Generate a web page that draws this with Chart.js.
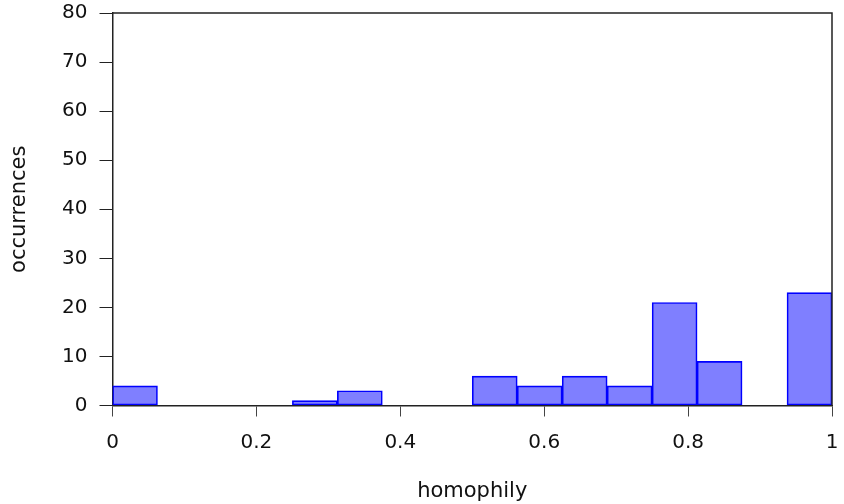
<!DOCTYPE html>
<html>
<head>
<meta charset="utf-8">
<script src="https://cdn.jsdelivr.net/npm/chart.js@4.4.1/dist/chart.umd.min.js"></script>
<style>
  html, body { margin: 0; padding: 0; background: #fff; }
</style>
</head>
<body>
<canvas id="c" width="844" height="504"></canvas>
<script>
// histogram bins (edges) and counts
var binEdges = [0, 0.0625, 0.125, 0.1875, 0.25, 0.3125, 0.375, 0.4375, 0.5,
    0.5625, 0.625, 0.6875, 0.75, 0.8125, 0.875, 0.9375, 1]
var counts = [4, 0, 0, 0, 1, 3, 0, 0, 6, 4, 6, 4, 21, 9, 0, 23]
var xTicks = [0, 0.2, 0.4, 0.6, 0.8, 1]
var yTicks = [0, 10, 20, 30, 40, 50, 60, 70, 80]

var points = counts.map(function (c, i) {
    return { x: (binEdges[i] + binEdges[i + 1]) / 2, y: c }
})

// top + right frame lines
var frame = {
    id: 'frame',
    afterDraw: function (chart) {
        var a = chart.chartArea
        var ctx = chart.ctx
        ctx.save()
        ctx.strokeStyle = '#222'
        ctx.lineWidth = 1.5
        ctx.beginPath()
        ctx.moveTo(a.left, a.top)
        ctx.lineTo(a.right, a.top)
        ctx.lineTo(a.right, a.bottom)
        ctx.stroke()
        ctx.restore()
    }
}

var tickFont = { family: 'DejaVu Sans', size: 20 }
var titleFont = { family: 'DejaVu Sans', size: 21 }

new Chart(document.getElementById('c'), {
    type: 'bar',
    data: {
        datasets: [{
            data: points,
            backgroundColor: 'rgba(0,0,255,0.5)',
            borderColor: '#0000ff',
            borderWidth: 1,
            borderSkipped: false,
            barPercentage: 1,
            categoryPercentage: 1
        }]
    },
    options: {
        responsive: false,
        animation: false,
        layout: { padding: { top: 13, right: 12, left: 0, bottom: 0 } },
        plugins: { legend: { display: false }, tooltip: { enabled: false } },
        scales: {
            x: {
                type: 'linear',
                min: 0,
                max: 1,
                offset: false,
                afterBuildTicks: function (s) { s.ticks = xTicks.map(function (v) { return { value: v } }) },
                afterFit: function (s) {
                    s.height = 98.5
                    s.paddingLeft = 0
                    s.paddingRight = 0
                },
                grid: { display: true, drawOnChartArea: false, drawTicks: true, tickLength: 11, color: '#444', offset: false },
                border: { display: true, color: '#222', width: 1.5 },
                ticks: { color: '#111', font: tickFont, padding: 14, maxRotation: 0,
                    callback: function (v) { return String(v) } },
                title: { display: true, text: 'homophily', color: '#111',
                    font: titleFont, padding: { bottom: 0, top: 0 } }
            },
            y: {
                min: 0,
                max: 80,
                afterBuildTicks: function (s) { s.ticks = yTicks.map(function (v) { return { value: v } }) },
                afterFit: function (s) {
                    s.width = 112.5
                    s.paddingTop = 0
                    s.paddingBottom = 0
                },
                grid: { display: true, drawOnChartArea: false, drawTicks: true, tickLength: 13, color: '#222' },
                border: { display: true, color: '#222', width: 1.5 },
                ticks: { color: '#111', font: tickFont, padding: 12 },
                title: { display: true, text: 'occurrences', color: '#111',
                    font: titleFont, padding: { top: 7, bottom: 0 } }
            }
        }
    },
    plugins: [frame]
})
</script>
</body>
</html>
